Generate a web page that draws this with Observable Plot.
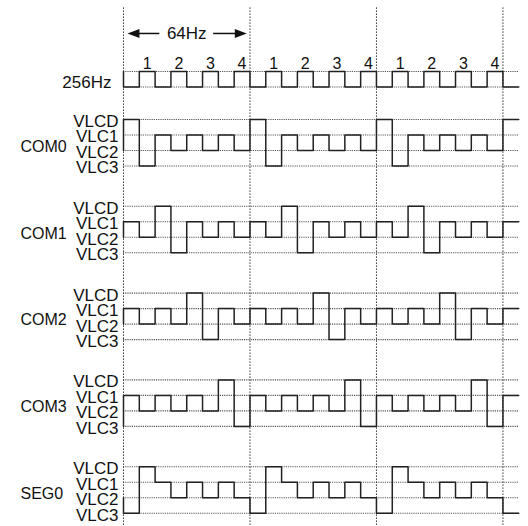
<!DOCTYPE html>
<html>
<head>
<meta charset="utf-8">
<script src="https://cdn.jsdelivr.net/npm/d3@7"></script>
<script src="https://cdn.jsdelivr.net/npm/@observablehq/plot@0.6"></script>
<style>
  html, body { margin: 0; padding: 0; background: #fff; }
  #chart svg { display: block; }
</style>
</head>
<body>
<div id="chart"></div>
<script>
// ---- data ----
const levels = ["VLCD", "VLC1", "VLC2", "VLC3"];
const rows = ["COM0", "COM1", "COM2", "COM3", "SEG0"];
const clockLabel = "256Hz";
const periodLabel = "64Hz";
// 256Hz clock, one value per half step (0 = low, 1 = high)
const CLK  = [0,1,0,1,0,1,0,1, 0,1,0,1,0,1,0,1, 0,1,0,1,0,1,0,1, 0];
// waveform levels per half step (index into levels)
const COM0 = [0,3,1,2,1,2,1,2, 0,3,1,2,1,2,1,2, 0,3,1,2,1,2,1,2, 0];
const COM1 = [1,2,0,3,1,2,1,2, 1,2,0,3,1,2,1,2, 1,2,0,3,1,2,1,2, 1];
const COM2 = [1,2,1,2,0,3,1,2, 1,2,1,2,0,3,1,2, 1,2,1,2,0,3,1,2, 1];
const COM3 = [1,2,1,2,1,2,0,3, 1,2,1,2,1,2,0,3, 1,2,1,2,1,2,0,3, 1];
const SEG0 = [3,0,1,2,1,2,1,2, 3,0,1,2,1,2,1,2, 3,0,1,2,1,2,1,2, 3];
const frameStarts = [0, 8, 16, 24];
const pulseNames = ["1", "2", "3", "4"];

// ---- layout helpers (in level units) ----
const series = [COM0, COM1, COM2, COM3, SEG0];
const ROWGAP = 5.6;
const clkHigh = -3.1, clkLow = -2.1;
const nSteps = CLK.length;          // 25 half steps drawn
const endX = nSteps;

const waveData = [];
series.forEach((s, r) => {
  const base = r * ROWGAP;
  waveData.push({row: rows[r], x: 0, y: base + s[s.length - 2]});
  s.forEach((v, i) => waveData.push({row: rows[r], x: i, y: base + v}));
  waveData.push({row: rows[r], x: endX, y: base + s[s.length - 1]});
});
const clkY = v => v ? clkHigh : clkLow;
waveData.push({row: "CLK", x: 0, y: clkY(CLK[CLK.length - 2])});
CLK.forEach((v, i) => waveData.push({row: "CLK", x: i, y: clkY(v)}));
waveData.push({row: "CLK", x: endX, y: clkY(CLK[CLK.length - 1])});

const hGrid = [];
rows.forEach((name, r) => levels.forEach((lv, k) => hGrid.push({y: r * ROWGAP + k})));
hGrid.push({y: clkHigh}, {y: clkLow});

const levelLabels = [];
rows.forEach((name, r) => levels.forEach((lv, k) => levelLabels.push({y: r * ROWGAP + k, text: lv})));
const rowLabels = rows.map((name, r) => ({y: r * ROWGAP + 1.5, text: name}));

const pulseLabels = [];
let count = 0;
CLK.forEach((v, i) => {
  if (v === 1) { pulseLabels.push({x: i + 0.5, text: pulseNames[count % 4]}); count++; }
});

const arrowY = -5.55;
const arrowTips = [{x: frameStarts[0] + 0.25, dir: "L"}, {x: frameStarts[1] - 0.2, dir: "R"}];

const headR = {draw(c) { c.moveTo(0, 0); c.lineTo(-12, -4.5); c.lineTo(-12, 4.5); c.closePath(); }};
const headL = {draw(c) { c.moveTo(0, 0); c.lineTo(12, -4.5); c.lineTo(12, 4.5); c.closePath(); }};

// ---- scales ----
const W = 528, H = 526;
const x0px = 123, stepPx = 15.81;
const y0px = 119, unitPx = 15.5;

const font = "'Liberation Sans', Arial, Helvetica, sans-serif";

const chart = Plot.plot({
  width: W,
  height: H,
  margin: 0,
  style: {fontFamily: font, background: "#fff", color: "#111"},
  x: {domain: [-x0px / stepPx, (W - x0px) / stepPx], range: [0, W], axis: null},
  y: {domain: [-y0px / unitPx, (H - y0px) / unitPx], range: [0, H], axis: null},
  marks: [
    // horizontal dotted level lines
    Plot.ruleY(hGrid, {y: "y", x1: 0, x2: endX, stroke: "#555", strokeWidth: 1.1, strokeDasharray: "1.2,1"}),
    // vertical dotted frame lines
    Plot.ruleX(frameStarts, {x: d => d, y1: -7.2, y2: 26.4, stroke: "#333", strokeWidth: 1, strokeDasharray: "1.5,1.5"}),
    // waveforms
    Plot.line(waveData, {x: "x", y: "y", z: "row", curve: "step-after", stroke: "#222", strokeWidth: 1.5}),
    // level labels
    Plot.text(levelLabels, {x: 0, y: "y", text: "text", textAnchor: "end", dx: -5, dy: 2, fontSize: 17, fill: "#111"}),
    // row labels
    Plot.text(rowLabels, {x: 0, y: "y", text: "text", textAnchor: "start", dx: -103, dy: 4, fontSize: 16, fill: "#111"}),
    // clock label
    Plot.text([clockLabel], {x: 0, y: (clkHigh + clkLow) / 2, text: d => d, textAnchor: "end", dx: -12, dy: 3, fontSize: 17, fill: "#111"}),
    // pulse numbers
    Plot.text(pulseLabels, {x: "x", y: clkHigh, text: "text", dy: -8, fontSize: 16, fill: "#111"}),
    // 64Hz arrow
    Plot.ruleY([arrowY], {x1: frameStarts[0] + 0.5, x2: 2.3, stroke: "#111", strokeWidth: 1.5}),
    Plot.ruleY([arrowY], {x1: 5.7, x2: frameStarts[1] - 0.5, stroke: "#111", strokeWidth: 1.5}),
    Plot.dot(arrowTips.filter(d => d.dir === "L"), {x: "x", y: arrowY, symbol: headL, fill: "#111", stroke: null}),
    Plot.dot(arrowTips.filter(d => d.dir === "R"), {x: "x", y: arrowY, symbol: headR, fill: "#111", stroke: null}),
    Plot.text([periodLabel], {x: (frameStarts[0] + frameStarts[1]) / 2, y: arrowY, text: d => d, fontSize: 17, fill: "#111"})
  ]
});
document.getElementById("chart").appendChild(chart);
</script>
</body>
</html>
